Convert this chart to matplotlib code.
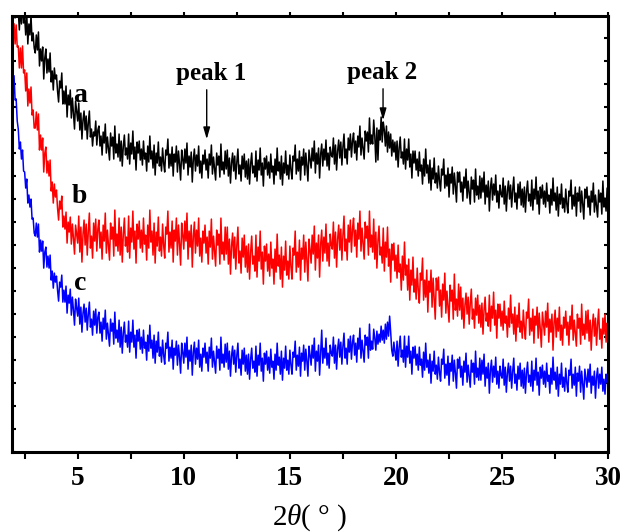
import numpy as np
import matplotlib.pyplot as plt
from matplotlib.ticker import MultipleLocator

plt.rcParams['font.family'] = ['Liberation Serif', 'DejaVu Serif']
plt.rcParams['mathtext.fontset'] = 'custom'
plt.rcParams['mathtext.it'] = 'Liberation Serif:italic'
plt.rcParams['mathtext.rm'] = 'Liberation Serif'

# 2theta grid, 2.00 .. 30.00 step 0.05 (one row of 20 values per degree)
two_theta = np.round(np.arange(2.0, 30.001, 0.05), 2)

# intensity (a.u.)
curve_a = [
    451, 434, 456, 437, 441, 422, 445, 428, 453, 429, 435, 417, 438, 408, 428, 417, 436, 411, 419, 404,
    399, 417, 402, 420, 386, 403, 391, 405, 373, 394, 403, 379, 393, 380, 399, 370, 381, 362, 384, 373,
    377, 361, 350, 371, 364, 379, 348, 361, 348, 366, 335, 357, 347, 362, 334, 354, 339, 323, 351, 341,
    331, 349, 322, 339, 313, 332, 341, 322, 336, 313, 329, 341, 315, 323, 306, 320, 316, 331, 307, 322,
    326, 306, 316, 297, 320, 309, 328, 299, 315, 304, 292, 319, 306, 315, 293, 326, 299, 308, 295, 318,
    291, 311, 286, 306, 317, 297, 304, 293, 318, 288, 309, 298, 321, 293, 305, 282, 310, 299, 311, 292,
    303, 287, 311, 293, 299, 281, 306, 290, 316, 293, 301, 284, 307, 277, 299, 289, 310, 286, 295, 281,
    304, 289, 280, 302, 297, 313, 284, 298, 286, 305, 276, 298, 290, 306, 280, 301, 288, 272, 302, 293,
    283, 303, 289, 309, 277, 296, 285, 300, 270, 293, 303, 281, 297, 286, 306, 279, 291, 274, 297, 288,
    302, 282, 293, 274, 298, 287, 307, 278, 295, 284, 272, 299, 287, 296, 275, 308, 282, 290, 278, 301,
    283, 302, 276, 294, 269, 289, 299, 281, 296, 273, 290, 303, 278, 287, 271, 296, 283, 298, 275, 291,
    273, 293, 268, 288, 299, 279, 286, 275, 301, 271, 292, 282, 304, 277, 289, 266, 294, 283, 296, 277,
    290, 274, 298, 280, 286, 268, 293, 277, 304, 281, 290, 273, 296, 267, 289, 279, 301, 277, 287, 273,
    297, 282, 273, 296, 291, 307, 278, 293, 281, 301, 272, 295, 287, 303, 277, 299, 286, 271, 302, 293,
    284, 304, 291, 311, 279, 299, 288, 304, 274, 298, 308, 286, 303, 292, 312, 286, 299, 282, 305, 297,
    295, 314, 288, 307, 282, 301, 312, 294, 310, 287, 305, 318, 294, 303, 288, 314, 302, 318, 295, 311,
    319, 299, 311, 292, 316, 305, 326, 297, 314, 304, 293, 321, 311, 320, 300, 334, 308, 317, 308, 332,
    316, 290, 324, 292, 322, 312, 335, 310, 330, 322, 306, 326, 300, 320, 304, 318, 296, 312, 300, 310,
    292, 311, 285, 304, 315, 294, 300, 288, 313, 283, 303, 292, 313, 285, 298, 274, 301, 289, 301, 282,
    293, 276, 300, 281, 287, 268, 293, 276, 303, 279, 287, 269, 292, 262, 284, 273, 294, 269, 279, 264,
    286, 271, 261, 283, 277, 293, 264, 277, 266, 284, 255, 278, 269, 285, 258, 279, 266, 250, 280, 270,
    280, 260, 270, 251, 275, 264, 283, 254, 271, 260, 248, 275, 263, 272, 250, 283, 257, 266, 253, 276,
    254, 274, 260, 280, 248, 267, 255, 271, 241, 264, 274, 252, 268, 257, 277, 250, 261, 244, 267, 258,
    255, 274, 248, 266, 241, 261, 271, 253, 267, 245, 262, 275, 250, 259, 243, 268, 254, 270, 247, 263,
    245, 265, 240, 260, 271, 251, 258, 246, 272, 242, 263, 253, 275, 248, 261, 238, 265, 254, 267, 248,
    261, 245, 269, 251, 257, 239, 263, 247, 274, 251, 259, 242, 265, 236, 258, 248, 268, 244, 254, 240,
    263, 248, 239, 261, 256, 272, 243, 257, 246, 265, 236, 259, 251, 265, 240, 261, 248, 233, 263, 254,
    265, 245, 256, 237, 261, 250, 269, 240, 257, 246, 235, 262, 250, 259, 238, 271, 245, 254, 241, 264,
    250,
]

curve_b = [
    428, 408, 427, 405, 406, 384, 404, 384, 406, 379, 382, 361, 379, 346, 363, 349, 365, 337, 342, 324,
    324, 340, 322, 338, 302, 317, 302, 314, 280, 299, 305, 279, 291, 276, 292, 261, 270, 249, 268, 255,
    262, 244, 232, 251, 243, 256, 225, 236, 223, 240, 209, 230, 220, 235, 208, 228, 214, 198, 227, 218,
    209, 236, 200, 225, 190, 218, 232, 207, 228, 197, 221, 239, 204, 216, 194, 229, 211, 233, 201, 223,
    232, 204, 220, 193, 227, 211, 239, 199, 222, 207, 192, 229, 213, 225, 196, 242, 206, 218, 201, 234,
    197, 225, 190, 218, 234, 206, 215, 200, 236, 194, 224, 210, 241, 203, 221, 189, 228, 213, 231, 204,
    222, 200, 234, 208, 217, 192, 227, 204, 242, 210, 221, 197, 229, 189, 220, 206, 235, 201, 215, 196,
    228, 207, 194, 225, 218, 241, 200, 220, 204, 231, 190, 222, 211, 234, 197, 227, 208, 187, 229, 217,
    203, 231, 211, 239, 193, 221, 205, 227, 185, 216, 230, 199, 222, 206, 234, 196, 214, 190, 221, 209,
    227, 199, 215, 188, 221, 205, 233, 193, 216, 201, 186, 222, 207, 218, 188, 234, 198, 210, 192, 225,
    198, 225, 188, 213, 178, 206, 219, 194, 215, 183, 207, 225, 189, 201, 179, 214, 195, 217, 185, 206,
    180, 208, 173, 200, 216, 188, 196, 181, 217, 175, 205, 191, 221, 183, 200, 168, 206, 191, 208, 181,
    198, 176, 210, 184, 193, 168, 203, 180, 218, 186, 197, 173, 205, 165, 196, 182, 211, 177, 191, 173,
    206, 185, 173, 204, 197, 221, 180, 200, 185, 212, 172, 204, 193, 217, 180, 210, 192, 171, 213, 202,
    189, 217, 198, 226, 182, 209, 194, 217, 175, 208, 222, 191, 215, 199, 228, 191, 209, 186, 218, 207,
    203, 230, 194, 220, 185, 213, 227, 202, 223, 192, 217, 236, 201, 213, 192, 227, 210, 232, 200, 223,
    234, 206, 222, 195, 229, 213, 241, 201, 224, 209, 193, 230, 214, 226, 197, 241, 205, 217, 200, 233,
    193, 220, 184, 211, 226, 197, 205, 189, 224, 181, 210, 195, 225, 186, 203, 170, 208, 192, 209, 181,
    197, 174, 207, 180, 188, 162, 196, 172, 210, 177, 187, 162, 193, 152, 182, 167, 195, 160, 173, 153,
    184, 162, 149, 179, 172, 194, 152, 172, 155, 182, 140, 171, 160, 182, 145, 174, 154, 133, 174, 162,
    175, 146, 162, 135, 168, 152, 179, 139, 161, 146, 130, 167, 151, 162, 133, 178, 142, 153, 136, 168,
    142, 165, 133, 154, 124, 147, 159, 138, 155, 128, 149, 163, 133, 143, 124, 154, 137, 157, 129, 147,
    125, 149, 118, 142, 155, 131, 139, 126, 157, 121, 146, 134, 160, 127, 142, 114, 148, 134, 148, 126,
    141, 122, 151, 129, 136, 115, 144, 125, 157, 129, 138, 118, 145, 111, 137, 125, 149, 120, 131, 114,
    142, 124, 113, 140, 134, 153, 117, 134, 121, 143, 109, 136, 127, 145, 114, 139, 123, 105, 140, 129,
    117, 141, 125, 149, 110, 133, 120, 138, 102, 130, 142, 115, 134, 121, 145, 112, 127, 107, 135, 124,
    141, 117, 130, 107, 136, 123, 147, 112, 132, 119, 106, 138, 124, 134, 108, 148, 117, 128, 113, 141,
    119, 142, 111, 132, 102, 126, 138, 116, 134, 107, 128, 143, 113, 123, 104, 134, 118, 138, 110, 129,
    122,
]

curve_c = [
    376, 352, 353, 331, 323, 303, 310, 293, 302, 281, 280, 264, 273, 249, 257, 245, 253, 233, 234, 219,
    216, 229, 215, 228, 200, 212, 201, 211, 184, 200, 205, 185, 196, 184, 197, 172, 181, 164, 179, 170,
    176, 162, 151, 170, 165, 177, 150, 162, 150, 166, 139, 157, 149, 163, 137, 155, 142, 127, 153, 144,
    136, 154, 128, 145, 120, 139, 148, 130, 144, 122, 138, 150, 125, 133, 117, 141, 127, 143, 119, 135,
    140, 119, 130, 111, 134, 123, 142, 113, 129, 118, 106, 133, 121, 129, 108, 140, 114, 122, 110, 132,
    105, 125, 99, 119, 130, 110, 117, 105, 131, 100, 120, 110, 132, 105, 117, 94, 122, 111, 123, 103,
    115, 99, 122, 104, 110, 92, 117, 101, 127, 104, 112, 94, 117, 89, 111, 100, 120, 96, 105, 90,
    112, 97, 88, 109, 104, 120, 91, 105, 94, 112, 83, 104, 97, 111, 87, 107, 95, 79, 109, 100,
    89, 109, 95, 115, 83, 102, 91, 107, 77, 100, 110, 88, 104, 93, 112, 85, 98, 81, 104, 95,
    109, 89, 100, 81, 105, 94, 114, 85, 101, 90, 79, 106, 94, 103, 82, 115, 89, 98, 85, 108,
    90, 109, 83, 101, 76, 96, 106, 88, 102, 80, 97, 109, 84, 93, 77, 102, 88, 104, 81, 97,
    78, 98, 73, 93, 104, 84, 91, 80, 106, 76, 97, 87, 109, 81, 94, 71, 99, 88, 101, 82,
    95, 79, 103, 85, 91, 73, 98, 82, 109, 87, 95, 78, 101, 72, 94, 84, 106, 82, 92, 78,
    102, 87, 78, 100, 95, 111, 82, 97, 86, 105, 76, 99, 91, 107, 82, 103, 91, 76, 106, 97,
    87, 107, 94, 114, 81, 101, 91, 107, 77, 100, 122, 89, 104, 94, 114, 87, 99, 84, 107, 99,
    96, 115, 89, 107, 83, 103, 113, 95, 110, 88, 106, 119, 94, 104, 88, 113, 100, 116, 93, 110,
    117, 97, 109, 90, 114, 103, 124, 94, 112, 101, 90, 117, 107, 115, 94, 128, 102, 111, 103, 123,
    114, 102, 121, 108, 118, 110, 126, 112, 122, 109, 128, 113, 130, 116, 136, 120, 102, 96, 110, 100,
    92, 111, 86, 105, 116, 95, 102, 90, 116, 85, 106, 95, 116, 89, 101, 78, 105, 94, 106, 87,
    98, 82, 105, 87, 93, 75, 100, 82, 109, 85, 92, 79, 98, 69, 91, 81, 101, 78, 87, 73,
    95, 80, 71, 93, 88, 103, 74, 88, 77, 96, 67, 89, 81, 97, 71, 92, 79, 64, 93, 84,
    95, 75, 86, 67, 91, 80, 99, 70, 87, 76, 65, 92, 80, 89, 68, 101, 75, 84, 72, 94,
    72, 92, 78, 98, 66, 85, 74, 89, 59, 82, 92, 70, 86, 75, 95, 68, 81, 64, 86, 77,
    74, 93, 67, 85, 60, 79, 89, 71, 86, 64, 81, 94, 69, 78, 62, 86, 73, 89, 66, 82,
    64, 84, 59, 79, 90, 70, 77, 66, 91, 61, 82, 72, 94, 67, 80, 57, 85, 74, 87, 68,
    81, 65, 89, 71, 77, 59, 84, 68, 95, 72, 80, 63, 85, 56, 78, 68, 89, 65, 75, 61,
    84, 69, 60, 82, 77, 93, 64, 78, 67, 85, 56, 79, 71, 86, 60, 81, 68, 53, 83, 74,
    65, 83, 70, 88, 59, 76, 67, 81, 54, 75, 84, 64, 78, 68, 85, 61, 73, 58, 78, 70,
    70,
]

fig = plt.figure(figsize=(6.27, 5.32), dpi=100)
ax = fig.add_axes([0.019, 0.150, 0.951, 0.820])

ax.plot(two_theta, curve_a, color='black', lw=1.1)
ax.plot(two_theta, curve_b, color='#ff0000', lw=1.1)
ax.plot(two_theta, curve_c, color='#0000ff', lw=1.1)

ax.set_xlim(1.9, 30)
ax.set_ylim(0, 436)

ax.xaxis.set_major_locator(MultipleLocator(5))
ax.xaxis.set_minor_locator(MultipleLocator(2.5))
ax.yaxis.set_major_locator(MultipleLocator(23))
ax.tick_params(axis='x', which='both', bottom=True, top=True, labeltop=False,
               direction='out', length=5, width=1.5, labelsize=19.5, pad=5)
ax.tick_params(axis='y', which='both', left=True, right=True, direction='in',
               length=3, width=1.5, labelleft=False)
# top ticks are only faint marks in the original
for t in ax.xaxis.get_major_ticks() + ax.xaxis.get_minor_ticks():
    t.tick2line.set_color('#b0b0b0')
    t.tick2line.set_markersize(3)
for lab in ax.get_xticklabels():
    lab.set_fontweight('bold')
for s in ax.spines.values():
    s.set_linewidth(2.2)

ax.set_xlabel(r'$\mathit{2\theta}$( ° )', fontsize=21, labelpad=8)

for txt, xx, yy in [('a', 5.1, 350), ('b', 5.1, 249), ('c', 5.1, 162)]:
    ax.text(xx, yy, txt, fontsize=20, fontweight='bold', ha='center', va='baseline')

ax.text(11.3, 372, 'peak 1', fontsize=18, fontweight='bold', ha='center', va='baseline')
ax.text(19.34, 373, 'peak 2', fontsize=18, fontweight='bold', ha='center', va='baseline')
arrow = dict(arrowstyle='-|>,head_length=0.7,head_width=0.2', color='black', lw=1.0)
ax.annotate('', xy=(11.08, 310), xytext=(11.08, 365), arrowprops=arrow)
ax.annotate('', xy=(19.39, 329), xytext=(19.39, 366), arrowprops=arrow)

fig.savefig('out.png', dpi=100)
